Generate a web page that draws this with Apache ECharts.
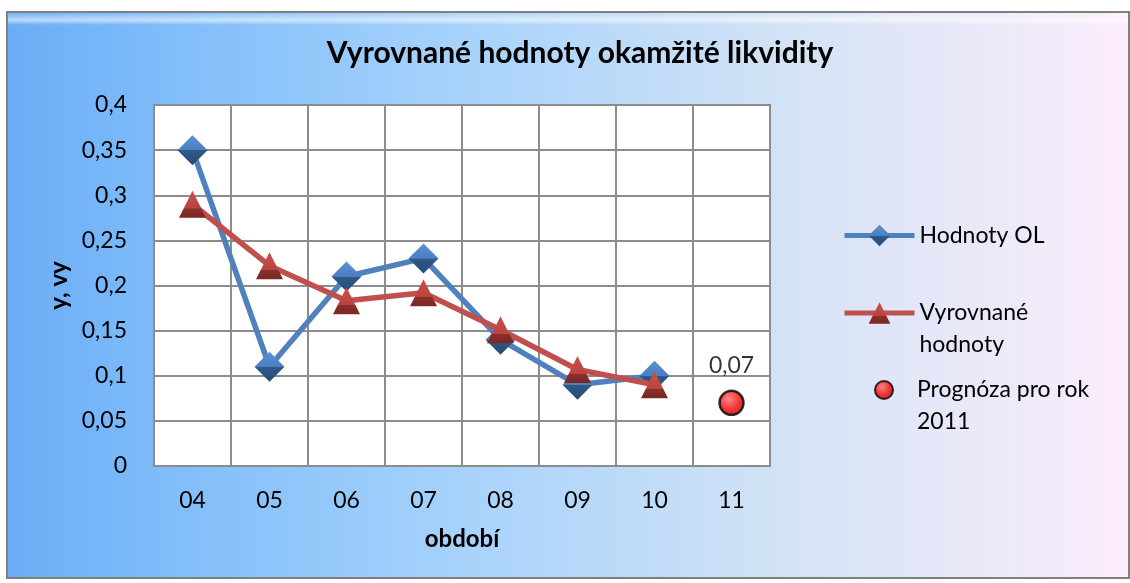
<!DOCTYPE html>
<html>
<head>
<meta charset="utf-8">
<script src="https://cdn.jsdelivr.net/npm/echarts@6/dist/echarts.min.js"></script>
<style>
html, body { margin: 0; padding: 0; background: #fff; }
#chart { width: 1130px; height: 583px; }
</style>
</head>
<body>
<div id="chart"></div>
<script>
var categories = ['04', '05', '06', '07', '08', '09', '10', '11'];
var hodnotyOL = [0.35, 0.11, 0.21, 0.23, 0.14, 0.09, 0.10, null];
var vyrovnane = [0.29, 0.222, 0.183, 0.192, 0.151, 0.107, 0.09, null];
var prognoza = [null, null, null, null, null, null, null, 0.07];

var font = 'Lato';

var myChart = echarts.init(document.getElementById('chart'));

var option = {
    textStyle: { fontFamily: font },
    graphic: [{
        type: 'rect',
        z: -10,
        shape: { x: 7, y: 12, width: 1122, height: 566 },
        style: {
            fill: {
                type: 'linear', x: 0, y: 0, x2: 1, y2: 0,
                colorStops: [
                    { offset: 0, color: '#6aacf6' },
                    { offset: 0.15, color: '#80bdfa' },
                    { offset: 0.4, color: '#a6d2fb' },
                    { offset: 0.7, color: '#d4e3f5' },
                    { offset: 1, color: '#fcedfb' }
                ]
            },
            stroke: '#7f7f7f',
            lineWidth: 2
        }
    }, {
        // top highlight
        type: 'rect',
        z: -9,
        shape: { x: 8, y: 13, width: 1120, height: 12 },
        style: {
            fill: {
                type: 'linear', x: 0, y: 0, x2: 0, y2: 1,
                colorStops: [
                    { offset: 0, color: 'rgba(255,255,255,0.05)' },
                    { offset: 0.6, color: 'rgba(255,255,255,0.55)' },
                    { offset: 1, color: 'rgba(255,255,255,0)' }
                ]
            }
        }
    }],
    title: {
        text: 'Vyrovnané hodnoty okamžité likvidity',
        left: 575,
        top: 33,
        textAlign: 'center',
        textStyle: { fontFamily: font, fontSize: 30, fontWeight: 'bold', color: '#000' }
    },
    grid: {
        left: 154, right: 360, top: 105, bottom: 117,
        show: true,
        backgroundColor: '#fff',
        borderColor: '#8c8c8c',
        borderWidth: 2
    },
    xAxis: {
        type: 'category',
        data: categories,
        boundaryGap: true,
        name: 'období',
        nameLocation: 'middle',
        nameGap: 61,
        nameTextStyle: { fontFamily: font, fontSize: 24, fontWeight: 'bold', color: '#000' },
        axisLine: { lineStyle: { color: '#8c8c8c', width: 2 } },
        axisTick: { show: false },
        axisLabel: { margin: 23, fontSize: 23, color: '#000', fontFamily: font },
        splitLine: { show: true, lineStyle: { color: '#8c8c8c', width: 2 } }
    },
    yAxis: {
        type: 'value',
        min: 0,
        max: 0.4,
        interval: 0.05,
        name: 'y, vy',
        nameLocation: 'middle',
        nameGap: 80,
        nameRotate: 90,
        nameTextStyle: { fontFamily: font, fontSize: 24, fontWeight: 'bold', color: '#000' },
        axisLine: { show: false },
        axisTick: { show: false },
        axisLabel: {
            margin: 27, fontSize: 23, color: '#000', fontFamily: font,
            formatter: function (v) { return String(+v.toFixed(2)).replace('.', ','); }
        },
        splitLine: { lineStyle: { color: '#8c8c8c', width: 2 } }
    },
    legend: [{
        data: ['Hodnoty OL'],
        left: 842, top: 224, padding: 0,
        itemWidth: 70, itemHeight: 27,
        lineStyle: { width: 5 },
        textStyle: { fontSize: 23, color: '#000', fontFamily: font }
    }, {
        data: ['Vyrovnané hodnoty'],
        left: 842, top: 265, padding: 0,
        itemWidth: 70, itemHeight: 27,
        lineStyle: { width: 5 },
        // empty first line keeps the first text line level with the icon
        formatter: function () { return ' \nVyrovnané\nhodnoty'; },
        textStyle: { fontSize: 23, color: '#000', fontFamily: font, lineHeight: 32 }
    }, {
        data: ['Prognóza pro rok 2011'],
        left: 874, top: 342, padding: 0,
        itemWidth: 18, itemHeight: 18,
        formatter: function () { return ' \nPrognóza pro rok\n2011'; },
        textStyle: { fontSize: 23, color: '#000', fontFamily: font, lineHeight: 32, padding: [0, 0, 0, 19] }
    }],
    series: [{
        name: 'Hodnoty OL',
        type: 'line',
        data: hodnotyOL,
        symbol: 'diamond',
        symbolSize: 30,
        z: 2,
        lineStyle: { color: '#4f81bd', width: 5.5 },
        itemStyle: {
            color: {
                type: 'linear', x: 0, y: 0, x2: 0, y2: 1,
                colorStops: [
                    { offset: 0, color: '#5b93d6' },
                    { offset: 0.5, color: '#4a7fc0' },
                    { offset: 0.51, color: '#2f5988' },
                    { offset: 1, color: '#274a73' }
                ]
            }
        }
    }, {
        name: 'Vyrovnané hodnoty',
        type: 'line',
        data: vyrovnane,
        symbol: 'triangle',
        symbolSize: [27, 27],
        z: 3,
        lineStyle: { color: '#c0504d', width: 5.5 },
        itemStyle: {
            color: {
                type: 'linear', x: 0, y: 0, x2: 0, y2: 1,
                colorStops: [
                    { offset: 0, color: '#c9504b' },
                    { offset: 0.65, color: '#b84440' },
                    { offset: 0.66, color: '#8c2f2c' },
                    { offset: 1, color: '#7a2724' }
                ]
            }
        }
    }, {
        name: 'Prognóza pro rok 2011',
        type: 'scatter',
        data: prognoza,
        symbol: 'circle',
        symbolSize: 24,
        z: 4,
        itemStyle: {
            color: {
                type: 'radial', x: 0.4, y: 0.35, r: 0.7,
                colorStops: [
                    { offset: 0, color: '#ff6a6a' },
                    { offset: 0.6, color: '#f00000' },
                    { offset: 1, color: '#b00000' }
                ]
            },
            borderColor: '#000',
            borderWidth: 2.5
        },
        label: {
            show: true,
            position: 'top',
            distance: 12,
            fontSize: 23,
            color: '#000',
            fontFamily: font,
            formatter: function (p) { return String(p.value).replace('.', ','); }
        }
    }]
};

myChart.setOption(option);
</script>
</body>
</html>
